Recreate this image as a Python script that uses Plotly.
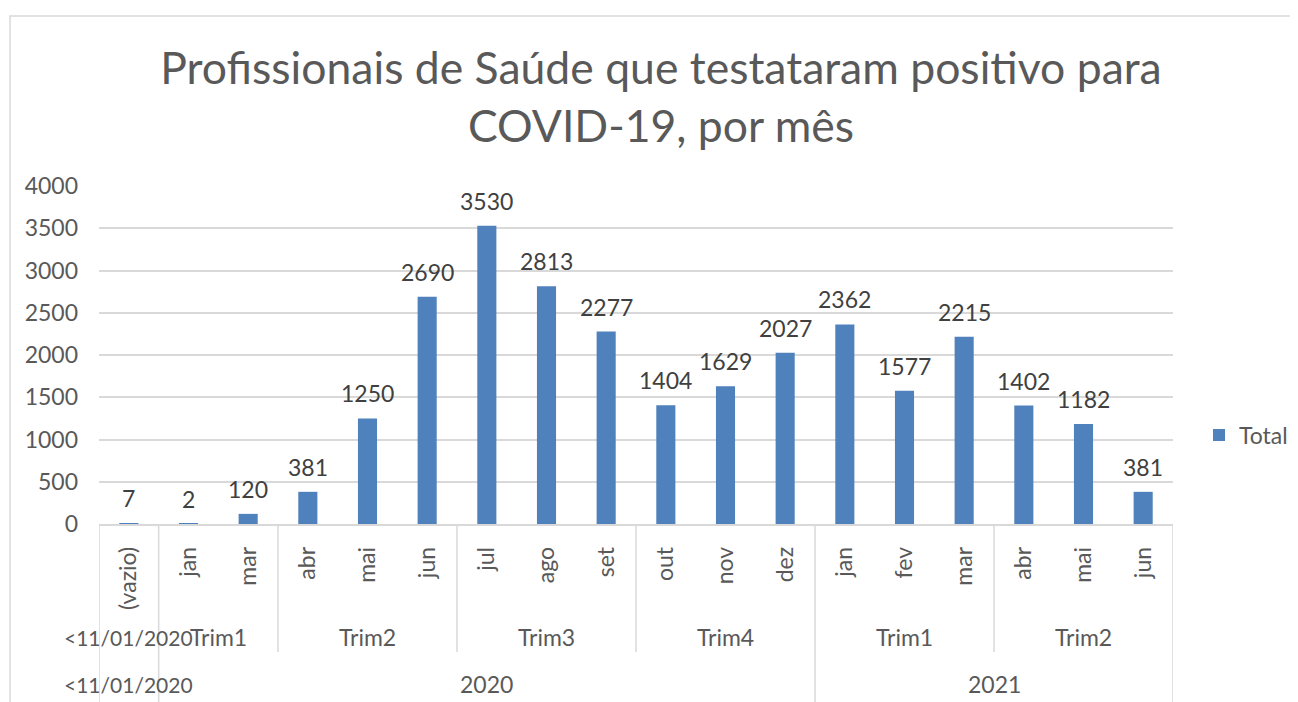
import plotly.graph_objects as go

months = ["(vazio)", "jan", "mar", "abr", "mai", "jun", "jul", "ago", "set",
          "out", "nov", "dez", "jan", "fev", "mar", "abr", "mai", "jun"]
quarters = ["<11/01/2020", "Trim1", "Trim1", "Trim2", "Trim2", "Trim2",
            "Trim3", "Trim3", "Trim3", "Trim4", "Trim4", "Trim4",
            "Trim1", "Trim1", "Trim1", "Trim2", "Trim2", "Trim2"]
years = ["<11/01/2020", "2020", "2020", "2020", "2020", "2020", "2020", "2020", "2020",
         "2020", "2020", "2020", "2021", "2021", "2021", "2021", "2021", "2021"]
totals = [7, 2, 120, 381, 1250, 2690, 3530, 2813, 2277,
          1404, 1629, 2027, 2362, 1577, 2215, 1402, 1182, 381]

BLUE = "#4F81BD"
GRID = "#D9D9D9"
TXT = "#595959"
FONT = "Lato"
FS = 23

# page body has an 8px margin: figure drawn 8px inset
W, H = 1290, 694
PLOT_H = 338.0
PLOT_W = 1074.0

x = list(range(len(months)))

fig = go.Figure()
fig.add_trace(go.Bar(x=x, y=totals, name="Total", marker=dict(color=BLUE, line=dict(width=0)),
                     width=0.32, showlegend=True))

# data labels
for xi, v in zip(x, totals):
    fig.add_annotation(x=xi, y=v, xref="x", yref="y", text=str(v), showarrow=False,
                       yanchor="bottom", yshift=9, font=dict(family=FONT, size=FS, color="#404040"))


def spans(keys):
    out = []
    start = 0
    for i in range(1, len(keys) + 1):
        if i == len(keys) or keys[i] != keys[start]:
            out.append((start, i - 1))
            start = i
    return out


qkeys = list(zip(years, quarters))
q_spans = spans(qkeys)
y_spans = spans(years)


def gsize(label):
    return FS if len(label) <= 6 else 21


y_q = -113 / PLOT_H
y_y = -160 / PLOT_H
for s, e in q_spans:
    fig.add_annotation(x=(s + e) / 2, y=y_q, xref="x", yref="paper", text=quarters[s],
                       showarrow=False, yanchor="middle",
                       font=dict(family=FONT, size=gsize(quarters[s]), color=TXT))
for s, e in y_spans:
    fig.add_annotation(x=(s + e) / 2, y=y_y, xref="x", yref="paper", text=years[s],
                       showarrow=False, yanchor="middle",
                       font=dict(family=FONT, size=gsize(years[s]), color=TXT))

# separators
year_bounds = set()
for s, e in y_spans:
    year_bounds.add(s - 0.5)
    year_bounds.add(e + 0.5)
q_bounds = set()
for s, e in q_spans:
    q_bounds.add(s - 0.5)
    q_bounds.add(e + 0.5)
for b in sorted(q_bounds | year_bounds):
    y1 = -0.6 if b in year_bounds else -128 / PLOT_H
    fig.add_shape(type="line", xref="x", yref="paper", x0=b, x1=b, y0=0, y1=y1,
                  line=dict(color=GRID, width=1.5))

# chart frame
fig.add_shape(type="rect", xref="paper", yref="paper",
              x0=-89 / PLOT_W, x1=1.3, y0=-0.6, y1=(524 - 16) / PLOT_H,
              line=dict(color=GRID, width=1.5), fillcolor="rgba(0,0,0,0)", layer="below")

fig.update_layout(
    width=W, height=H,
    margin=dict(l=91, r=W - 91 - 1074, t=178, b=H - 178 - 338),
    paper_bgcolor="white", plot_bgcolor="white",
    title=dict(text="Profissionais de Saúde que testataram positivo para<br>COVID-19, por mês",
               x=653 / W, xanchor="center", y=1 - 76 / H, yanchor="middle",
               font=dict(family=FONT, size=44.5, color=TXT)),
    showlegend=True,
    legend=dict(xref="container", yref="container", x=1191 / W, y=1 - 427 / H,
                xanchor="left", yanchor="middle",
                font=dict(family=FONT, size=FS, color=TXT), itemwidth=30,
                bgcolor="rgba(0,0,0,0)"),
    xaxis=dict(range=[-0.5, len(months) - 0.5], tickmode="array", tickvals=x, ticktext=months,
               tickangle=-90, showgrid=False, zeroline=False, showline=True, linecolor=GRID,
               linewidth=1.5, ticks="", ticklabelstandoff=12,
               tickfont=dict(family=FONT, size=FS, color=TXT)),
    yaxis=dict(range=[0, 4000], dtick=500, showgrid=True, gridcolor=GRID, gridwidth=1.5,
               zeroline=False, showline=False, ticks="", ticklabelstandoff=20,
               tickfont=dict(family=FONT, size=FS, color=TXT)),
)

fig.write_html("out.html")
